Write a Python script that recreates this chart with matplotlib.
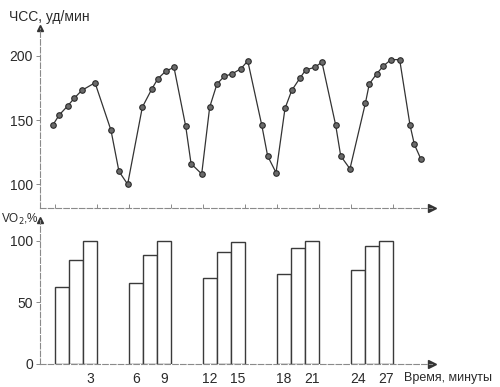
import matplotlib
matplotlib.use('Agg')
import matplotlib.pyplot as plt
import numpy as np

plt.rcParams['font.family'] = ['Liberation Sans', 'DejaVu Sans']

# heart rate (x in bar-width units from the y axis)
hr_time = [0.91, 1.38, 1.98, 2.45, 2.98, 3.93, 5.07, 5.64, 6.26,
           7.31, 7.98, 8.41, 8.98, 9.57, 10.41, 10.79, 11.55,
           12.12, 12.64, 13.16, 13.74, 14.36, 14.84, 15.84, 16.26, 16.86,
           17.50, 17.98, 18.59, 18.98, 19.62, 20.14, 21.12, 21.48, 22.14,
           23.24, 23.52, 24.05, 24.52, 25.07, 25.69, 26.43, 26.74, 27.19]
hr_values = [146, 154, 161, 167, 173, 179, 142, 110, 100,
             160, 174, 182, 188, 191, 145, 116, 108,
             160, 178, 184, 186, 190, 196, 146, 122, 109,
             159, 173, 183, 189, 191, 195, 146, 122, 112,
             163, 178, 186, 192, 197, 197, 146, 131, 120]

# VO2 bars, three per work bout
vo2_groups = [[62, 84, 100],
              [66, 88, 100],
              [70, 91, 99],
              [73, 94, 100],
              [76, 96, 100]]
tick_labels = [['', '', '3'], ['6', '', '9'], ['12', '', '15'],
               ['18', '', '21'], ['24', '', '27']]

group_start = 1.07
group_step = 5.28
bar_w = 1.0

axis_col = '#8a8a8a'
ink = '#2a2a2a'

fig = plt.figure(figsize=(5.0, 3.87), dpi=100)
ax1 = fig.add_axes([0.08, 0.4625, 0.784, 0.4651])
ax2 = fig.add_axes([0.08, 0.0602, 0.784, 0.3713])

for ax in (ax1, ax2):
    ax.set_xlim(0, 28)
    for s in ('top', 'right'):
        ax.spines[s].set_visible(False)
    for s in ('left', 'bottom'):
        ax.spines[s].set_color(axis_col)
        ax.spines[s].set_linewidth(0.8)
        ax.spines[s].set_linestyle((0, (5, 2)))
    ax.tick_params(axis='y', length=3, width=0.7, color=axis_col,
                   labelsize=10, labelcolor=ink, pad=2)
    # arrow heads
    ax.plot(0, 1, '^', transform=ax.transAxes, clip_on=False,
            color='#333333', ms=5)
    ax.plot(1, 0, '>', transform=ax.transAxes, clip_on=False,
            color='#333333', ms=6)

# upper panel: heart rate
ax1.plot(hr_time, hr_values, '-', color='#333333', lw=0.9, marker='o',
         ms=4.0, mfc='#6a6a6a', mec='#2a2a2a', mew=0.8)
ax1.set_ylim(81.5, 221.6)
ax1.set_yticks([100, 150, 200])
edges = []
for g in range(len(vo2_groups)):
    s = group_start + g * group_step
    edges += [s, s + 3 * bar_w]
ax1.set_xticks(edges)
ax1.tick_params(axis='x', direction='in', length=3, width=0.7,
                color=axis_col, labelbottom=False)
fig.text(0.018, 0.955, 'ЧСС, уд/мин', fontsize=10, color=ink,
         va='center', ha='left')

# lower panel: VO2
xt, xl = [], []
for g, vals in enumerate(vo2_groups):
    s = group_start + g * group_step
    lefts = s + np.arange(len(vals)) * bar_w
    ax2.bar(lefts, vals, width=bar_w, align='edge', color='white',
            edgecolor='#3a3a3a', linewidth=1.0)
    for left, lab in zip(lefts, tick_labels[g]):
        if lab:
            xt.append(left + bar_w / 2)
            xl.append(lab)
ax2.set_ylim(0, 116.8)
ax2.set_yticks([0, 50, 100])
ax2.set_xticks(xt)
ax2.set_xticklabels(xl)
ax2.tick_params(axis='x', length=0, labelsize=10, labelcolor=ink, pad=6)
fig.text(0.002, 0.434, 'VO$_2$,%', fontsize=8.5, color=ink,
         va='center', ha='left')
fig.text(0.808, 0.024, 'Время, минуты', fontsize=9, color=ink,
         va='center', ha='left')

fig.savefig('out.png', dpi=100)
